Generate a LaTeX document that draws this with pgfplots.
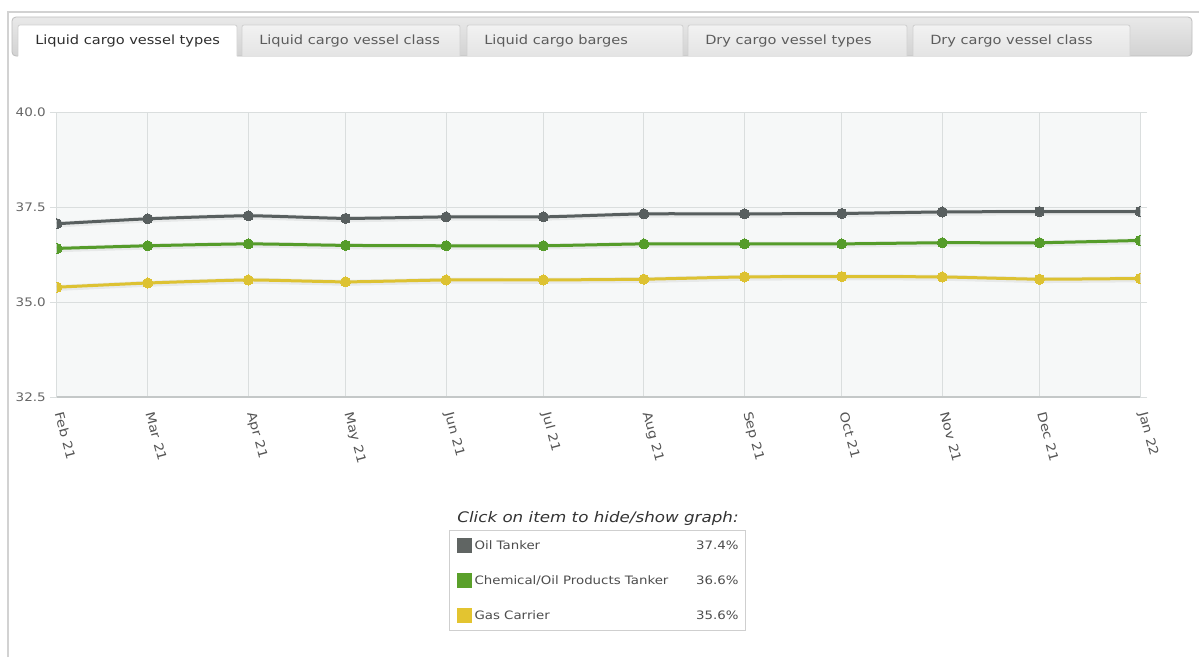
\documentclass[border=0pt]{standalone}
\usepackage{fontspec}
\setmainfont{DejaVu Sans}[FakeStretch=1.15]
\usepackage{pgfplots}
\usepackage{pgfplotstable}
\pgfplotsset{compat=1.18}

\definecolor{oilc}{HTML}{585F5F}
\definecolor{chemc}{HTML}{559C2A}
\definecolor{gasc}{HTML}{DDC232}
\definecolor{oilkey}{HTML}{606563}
\definecolor{chemkey}{HTML}{5AA02A}
\definecolor{gaskey}{HTML}{E3C430}
\definecolor{plotbg}{HTML}{F6F8F8}
\definecolor{gridc}{HTML}{DADEDE}
\definecolor{axisc}{HTML}{C4C8C8}
\definecolor{tickc}{HTML}{666666}
\definecolor{xtickc}{HTML}{555555}
\definecolor{framec}{HTML}{D2D2D2}
\definecolor{bartop}{HTML}{E9E9E9}
\definecolor{barbot}{HTML}{D2D2D2}
\definecolor{barborder}{HTML}{BDBDBD}
\definecolor{tabtop}{HTML}{F2F2F2}
\definecolor{tabbot}{HTML}{E4E4E4}
\definecolor{tabborder}{HTML}{D0D0D0}
\definecolor{tabtext}{HTML}{5C5C5C}
\definecolor{activetext}{HTML}{2E2E2E}
\definecolor{legbord}{HTML}{CFCFCF}
\definecolor{legtext}{HTML}{4D4D4D}
\definecolor{titlec}{HTML}{333333}

% monthly share (%) by vessel type; day = days since 1 Feb 2021
\pgfplotstableread{
day oil   chem  gas
0   37.06 36.41 35.39
28  37.19 36.48 35.50
59  37.27 36.53 35.58
89  37.20 36.49 35.53
120 37.24 36.48 35.58
150 37.24 36.48 35.58
181 37.32 36.53 35.60
212 37.32 36.53 35.66
242 37.33 36.53 35.67
273 37.37 36.56 35.66
303 37.38 36.56 35.60
334 37.38 36.62 35.62
}\vesseldata

\begin{document}
\begin{tikzpicture}
\begin{scope}[x=0.75pt,y=-0.75pt]
  \useasboundingbox (0,0) rectangle (1199,657);
  \fill[white] (0,0) rectangle (1199,657);
  % panel frame
  \draw[framec, line width=1.2pt] (8,657) -- (8,12) -- (1199,12);
  % tab strip
  \shade[top color=bartop, bottom color=barbot, draw=barborder, line width=0.6pt, rounded corners=3pt]
    (12,17) rectangle (1192,56);
  % inactive tabs
  \foreach \l/\r/\t in {242/460/Liquid cargo vessel class,
                        467/683/Liquid cargo barges,
                        688/907/Dry cargo vessel types,
                        913/1130/Dry cargo vessel class}{
    \shade[top color=tabtop, bottom color=tabbot, draw=tabborder, line width=0.6pt, rounded corners=1.5pt]
      (\l,56) -- (\l,25) -- (\r,25) -- (\r,56);
    \node[anchor=west, inner sep=0pt, text=tabtext, font=\fontsize{9.5}{11}\selectfont] at (\l+17,41) {\t};
  }
  % active tab
  \fill[white, rounded corners=1.5pt] (18,57) -- (18,25) -- (237,25) -- (237,57);
  \draw[tabborder, line width=0.6pt, rounded corners=1.5pt] (18,56) -- (18,25) -- (237,25) -- (237,56);
  \node[anchor=west, inner sep=0pt, text=activetext, font=\fontsize{9.5}{11}\selectfont] at (35,41) {Liquid cargo vessel types};
  % legend caption
  \node[inner sep=0pt, text=titlec, font=\itshape\fontsize{10.9}{13}\selectfont] at (598,518) {Click on item to hide/show graph:};
\end{scope}

\begin{axis}[
  at={(42.75pt,-297.75pt)}, anchor=south west,
  width=812.25pt, height=213.75pt, scale only axis,
  xmin=0, xmax=334, ymin=32.5, ymax=40,
  axis background/.style={fill=plotbg},
  xtick={0,28,59,89,120,150,181,212,242,273,303,334},
  xticklabels={Feb 21,Mar 21,Apr 21,May 21,Jun 21,Jul 21,Aug 21,Sep 21,Oct 21,Nov 21,Dec 21,Jan 22},
  ytick={32.5,35,37.5,40},
  /pgf/number format/fixed,
  /pgf/number format/fixed zerofill,
  /pgf/number format/precision=1,
  /pgf/number format/assume math mode=true,
  tick label style={font=\fontsize{8.8}{10}\selectfont, text=tickc},
  yticklabel style={inner sep=0pt, anchor=east, xshift=-3pt},
  xticklabel style={font=\fontsize{9.4}{11}\selectfont, text=xtickc, yshift=-6pt, xshift=1.5pt, rotate=-75, anchor=west, inner sep=0pt},
  grid=major,
  major grid style={draw=gridc, line width=0.75pt},
  tick align=outside, major tick length=5.25pt,
  xtick style={draw=none},
  ytick style={draw=gridc, line width=0.75pt},
  axis line style={draw=gridc, line width=0.75pt},
  clip marker paths=true,
  after end axis/.code={\draw[axisc, line width=1.5pt] (rel axis cs:0,0) -- (rel axis cs:1,0);},
  legend style={at={(0.362,-0.4667)}, anchor=north west,
    draw=legbord, line width=0.75pt, fill=white,
    inner xsep=5.25pt, inner ysep=5.8pt,
    row sep=15pt, column sep=2.25pt,
    font=\fontsize{8.7}{10}\selectfont, text=legtext,
    nodes={inner sep=0pt}},
  legend cell align=left,
]
  % soft drop shadows under the lines
  \addplot[forget plot, black, opacity=0.06, line width=4.5pt, smooth, tension=0.3, no marks, yshift=-0.6pt]
    table[x=day, y=oil] {\vesseldata};
  \addplot[forget plot, black, opacity=0.06, line width=4.5pt, smooth, tension=0.3, no marks, yshift=-0.6pt]
    table[x=day, y=chem] {\vesseldata};
  \addplot[forget plot, black, opacity=0.06, line width=4.5pt, smooth, tension=0.3, no marks, yshift=-0.6pt]
    table[x=day, y=gas] {\vesseldata};

  \addplot[oilc, line width=2.25pt, smooth, tension=0.3, mark=*, mark size=3.8pt,
    mark options={draw=oilc, fill=oilc, line width=0pt},
    legend image code/.code={\fill[oilkey] (0pt,-4.5pt) rectangle (9pt,4.5pt);}]
    table[x=day, y=oil] {\vesseldata};
  \addlegendentry{\makebox[198pt][l]{Oil Tanker\hfill 37.4\%}}

  \addplot[chemc, line width=2.25pt, smooth, tension=0.3, mark=*, mark size=3.8pt,
    mark options={draw=chemc, fill=chemc, line width=0pt},
    legend image code/.code={\fill[chemkey] (0pt,-4.5pt) rectangle (9pt,4.5pt);}]
    table[x=day, y=chem] {\vesseldata};
  \addlegendentry{\makebox[198pt][l]{Chemical/Oil Products Tanker\hfill 36.6\%}}

  \addplot[gasc, line width=2.25pt, smooth, tension=0.3, mark=*, mark size=3.8pt,
    mark options={draw=gasc, fill=gasc, line width=0pt},
    legend image code/.code={\fill[gaskey] (0pt,-4.5pt) rectangle (9pt,4.5pt);}]
    table[x=day, y=gas] {\vesseldata};
  \addlegendentry{\makebox[198pt][l]{Gas Carrier\hfill 35.6\%}}
\end{axis}
\end{tikzpicture}
\end{document}
